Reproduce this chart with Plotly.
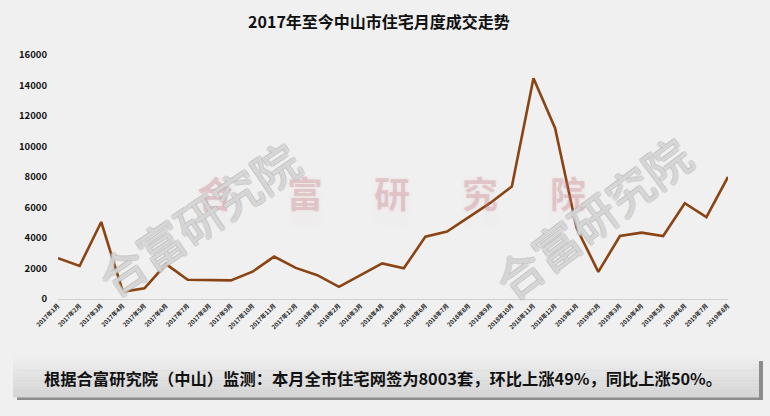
import plotly.graph_objects as go

months = ([f"2017年{m}月" for m in range(1, 13)] +
          [f"2018年{m}月" for m in range(1, 13)] +
          [f"2019年{m}月" for m in range(1, 9)])
volumes = [2680, 2165, 5050, 480, 700, 2290, 1260, 1230, 1220, 1790, 2780, 2040,
           1560, 800, 1570, 2330, 2010, 4090, 4420, 5335, 6300, 7380, 14480, 11200,
           4640, 1780, 4130, 4350, 4130, 6280, 5371, 8003]
yticks = [0, 2000, 4000, 6000, 8000, 10000, 12000, 14000, 16000]

title = "2017年至今中山市住宅月度成交走势"
summary = "根据合富研究院（中山）监测：本月全市住宅网签为8003套，环比上涨49%，同比上涨50%。"
watermark = "合富研究院"

W, H = 770, 416
L, R, T, B = 58, 728, 55, 299
FONT = "Noto Sans CJK SC"


def px(x):
    return (x - L) / (R - L)


def py(y):
    return (B - y) / (B - T)


fig = go.Figure()
fig.add_trace(go.Scatter(
    x=list(range(len(months))), y=volumes, mode="lines",
    line=dict(color="#8a4414", width=2.6), hoverinfo="y", showlegend=False))

shapes = []
# bottom summary box: shadow + gradient bands
shapes.append(dict(type="rect", xref="paper", yref="paper",
                   x0=px(17), x1=px(763), y0=py(400), y1=py(361),
                   fillcolor="#8c8c8c", line=dict(width=0), layer="below"))
top, bot = 357, 397
n = 12
for i in range(n):
    y0 = top + (bot - top) * i / n
    y1 = top + (bot - top) * (i + 1) / n
    c = int(238 - (238 - 214) * i / (n - 1))
    shapes.append(dict(type="rect", xref="paper", yref="paper",
                       x0=px(13), x1=px(759), y0=py(y1 + 0.5), y1=py(y0),
                       fillcolor=f"rgb({c},{c},{c})", line=dict(width=0), layer="below"))

annotations = []
# pink blurred watermark characters
for ch, xx in zip(watermark, [215, 305, 392, 480, 568]):
    annotations.append(dict(text=ch, x=px(xx), y=py(192), xref="paper", yref="paper",
                            showarrow=False, xanchor="center", yanchor="middle",
                            font=dict(family=FONT, size=36, weight="bold",
                                      color="rgba(196,120,128,0.28)",
                                      shadow="0 0 3px rgba(196,120,128,0.45), 0 14px 6px rgba(196,120,128,0.12)")))

outline = ("-1px -1px 0 #b4b4b4, 1px -1px 0 #b4b4b4, -1px 1px 0 #b4b4b4, "
           "1px 1px 0 #b4b4b4, 0 0 2px #c8c8c8")
for cx, cy, ang in [(198, 218, -34), (592, 217, -37)]:
    annotations.append(dict(text=watermark, x=px(cx), y=py(cy), xref="paper", yref="paper",
                            showarrow=False, xanchor="center", yanchor="middle",
                            textangle=ang,
                            font=dict(family=FONT, size=46, color="rgba(250,250,250,0.45)",
                                      shadow=outline)))

annotations.append(dict(text=summary, x=px(382.5), y=py(378), xref="paper", yref="paper",
                        showarrow=False, xanchor="center", yanchor="middle",
                        font=dict(family=FONT, size=16.3, weight="bold", color="#111111")))

fig.update_layout(
    width=W, height=H,
    margin=dict(l=L, r=W - R, t=T, b=H - B, pad=0),
    paper_bgcolor="#f0f0f0", plot_bgcolor="#f0f0f0",
    title=dict(text=title, x=379 / W, xref="container", y=1 - 22 / H, yanchor="middle",
               xanchor="center",
               font=dict(family=FONT, size=16, weight="bold", color="#111111")),
    xaxis=dict(range=[0, len(months) - 1], tickmode="array",
               tickvals=list(range(len(months))), ticktext=months, tickangle=-45,
               tickfont=dict(family=FONT, size=6, weight="bold", color="#222222"),
               showgrid=False, zeroline=False, showline=True, linecolor="#d0d0d0",
               linewidth=1, ticks="", fixedrange=True),
    yaxis=dict(range=[0, 16000], tickmode="array", tickvals=yticks,
               ticktext=[str(v) for v in yticks],
               tickfont=dict(family=FONT, size=9.5, weight="bold", color="#111111"),
               showgrid=False, zeroline=False, showline=False, ticks="",
               ticklabelstandoff=10, fixedrange=True),
    shapes=shapes, annotations=annotations,
)

fig.write_html("out.html", config={"displayModeBar": False},
               post_script="document.body.style.margin='0';document.body.style.background='#f0f0f0';")
